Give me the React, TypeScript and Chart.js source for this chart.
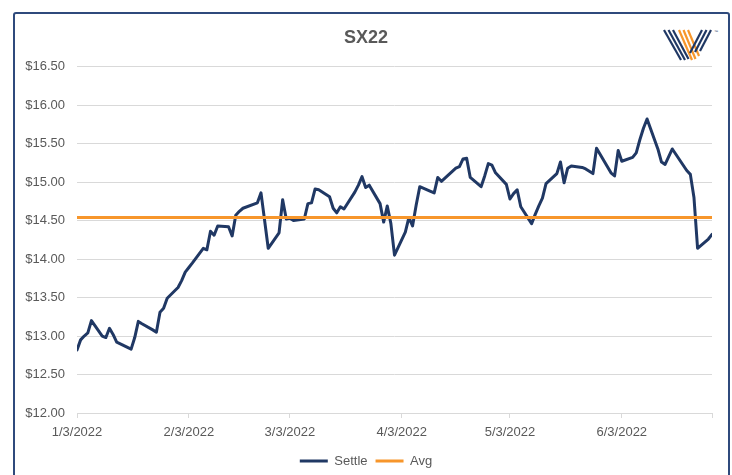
import React, { useEffect, useRef } from 'react';
import { Chart, registerables } from 'chart.js';

Chart.register(...registerables);

const TITLE = 'SX22';
const SERIES_SETTLE = 'Settle';
const SERIES_AVG = 'Avg';

const settleDates = [
  '2022-01-03','2022-01-04','2022-01-05','2022-01-06','2022-01-07','2022-01-10','2022-01-11','2022-01-12','2022-01-13','2022-01-14',
  '2022-01-18','2022-01-19','2022-01-20','2022-01-21','2022-01-24','2022-01-25','2022-01-26','2022-01-27','2022-01-28','2022-01-31',
  '2022-02-01','2022-02-02','2022-02-03','2022-02-04','2022-02-07','2022-02-08','2022-02-09','2022-02-10','2022-02-11','2022-02-14',
  '2022-02-15','2022-02-16','2022-02-17','2022-02-18','2022-02-22','2022-02-23','2022-02-24','2022-02-25','2022-02-28',
  '2022-03-01','2022-03-02','2022-03-03','2022-03-04','2022-03-07','2022-03-08','2022-03-09','2022-03-10','2022-03-11','2022-03-14',
  '2022-03-15','2022-03-16','2022-03-17','2022-03-18','2022-03-21','2022-03-22','2022-03-23','2022-03-24','2022-03-25','2022-03-28',
  '2022-03-29','2022-03-30','2022-03-31',
  '2022-04-01','2022-04-04','2022-04-05','2022-04-06','2022-04-07','2022-04-08','2022-04-11','2022-04-12','2022-04-13','2022-04-14',
  '2022-04-18','2022-04-19','2022-04-20','2022-04-21','2022-04-22','2022-04-25','2022-04-26','2022-04-27','2022-04-28','2022-04-29',
  '2022-05-02','2022-05-03','2022-05-04','2022-05-05','2022-05-06','2022-05-09','2022-05-10','2022-05-11','2022-05-12','2022-05-13',
  '2022-05-16','2022-05-17','2022-05-18','2022-05-19','2022-05-20','2022-05-23','2022-05-24','2022-05-25','2022-05-26','2022-05-27',
  '2022-05-31',
  '2022-06-01','2022-06-02','2022-06-03','2022-06-06','2022-06-07','2022-06-08','2022-06-09','2022-06-10','2022-06-13','2022-06-14',
  '2022-06-15','2022-06-16','2022-06-17','2022-06-21','2022-06-22','2022-06-23','2022-06-24','2022-06-27','2022-06-28',
];

const settleValues = [
  12.82, 12.95, 13.00, 13.04, 13.20, 13.00, 12.98, 13.10, 13.02, 12.92,
  12.83, 12.98, 13.19, 13.16, 13.08, 13.05, 13.31, 13.36, 13.49, 13.63,
  13.72, 13.83, 13.89, 13.95, 14.14, 14.12, 14.36, 14.31, 14.43, 14.42,
  14.30, 14.57, 14.62, 14.66, 14.73, 14.86, 14.50, 14.14, 14.34,
  14.77, 14.52, 14.53, 14.50, 14.52, 14.72, 14.73, 14.91, 14.90, 14.81,
  14.66, 14.60, 14.68, 14.65, 14.87, 14.96, 15.07, 14.93, 14.96, 14.72,
  14.48, 14.69, 14.46,
  14.05, 14.35, 14.54, 14.43, 14.70, 14.94, 14.88, 14.86, 15.06, 15.01,
  15.18, 15.20, 15.30, 15.31, 15.06, 14.94, 15.08, 15.24, 15.22, 15.12,
  14.97, 14.78, 14.85, 14.90, 14.68, 14.46, 14.58, 14.69, 14.79, 14.98,
  15.11, 15.26, 14.99, 15.18, 15.21, 15.19, 15.17, 15.14, 15.11, 15.44,
  15.12,
  15.08, 15.41, 15.27, 15.32, 15.38, 15.55, 15.70, 15.82, 15.43, 15.26,
  15.23, 15.33, 15.43, 15.15, 15.10, 14.80, 14.14, 14.26, 14.32,
];

const AVG_VALUE = 14.54;

const X_START_DATE = '2022-01-03';
const X_END_DATE = '2022-06-28';
const xTickDates = ['2022-01-03', '2022-02-03', '2022-03-03', '2022-04-03', '2022-05-03', '2022-06-03', '2022-06-28'];
const xTickLabels = ['1/3/2022', '2/3/2022', '3/3/2022', '4/3/2022', '5/3/2022', '6/3/2022', ''];

const Y_MIN = 12;
const Y_MAX = 16.5;
const Y_STEP = 0.5;

const FONT = "'Liberation Sans', Arial, Helvetica, sans-serif";
const TEXT_COLOR = '#595959';
const GRID_COLOR = '#D9D9D9';
const NAVY = '#203864';
const ORANGE = '#F7962B';

function dayNum(s: string): number {
  const [y, m, d] = s.split('-').map(Number);
  const [y0, m0, d0] = X_START_DATE.split('-').map(Number);
  return Math.round((Date.UTC(y, m - 1, d) - Date.UTC(y0, m0 - 1, d0)) / 86400000);
}

export default function App() {
  const canvasRef = useRef<HTMLCanvasElement | null>(null);

  useEffect(() => {
    const canvas = canvasRef.current;
    if (!canvas) return;

    const settleData = settleDates.map((d, i) => ({ x: dayNum(d), y: settleValues[i] }));
    const avgData = [
      { x: dayNum(X_START_DATE), y: AVG_VALUE },
      { x: dayNum(X_END_DATE), y: AVG_VALUE },
    ];
    const tickVals = xTickDates.map(dayNum);

    const chart = new Chart(canvas, {
      type: 'line',
      data: {
        datasets: [
          {
            label: SERIES_SETTLE,
            data: settleData,
            borderColor: NAVY,
            backgroundColor: NAVY,
            borderWidth: 3,
            pointRadius: 0,
            pointHoverRadius: 0,
            pointStyle: 'line',
            tension: 0,
            borderJoinStyle: 'round',
            borderCapStyle: 'round',
            order: 1,
          },
          {
            label: SERIES_AVG,
            data: avgData,
            borderColor: ORANGE,
            backgroundColor: ORANGE,
            borderWidth: 3,
            pointRadius: 0,
            pointHoverRadius: 0,
            pointStyle: 'line',
            tension: 0,
            order: 0,
          },
        ],
      },
      options: {
        responsive: false,
        maintainAspectRatio: false,
        animation: false,
        events: [],
        layout: { padding: { left: 20, right: 20, top: 0, bottom: 2.5 } },
        plugins: {
          title: {
            display: true,
            text: TITLE,
            color: TEXT_COLOR,
            font: { family: FONT, size: 18, weight: 'bold' },
            padding: { top: 27, bottom: 18 },
          },
          legend: {
            display: true,
            position: 'bottom',
            labels: {
              color: TEXT_COLOR,
              font: { family: FONT, size: 13 },
              usePointStyle: true,
              pointStyleWidth: 28,
              padding: 8,
              sort: (a: any, b: any) => a.datasetIndex - b.datasetIndex,
            },
          },
          tooltip: { enabled: false },
        },
        scales: {
          x: {
            type: 'linear',
            min: dayNum(X_START_DATE),
            max: dayNum(X_END_DATE),
            afterBuildTicks: (scale: any) => {
              scale.ticks = tickVals.map((v) => ({ value: v }));
            },
            afterFit: (scale: any) => {
              scale.height = 33.5;
            },
            ticks: {
              autoSkip: false,
              maxRotation: 0,
              minRotation: 0,
              padding: 7,
              color: TEXT_COLOR,
              font: { family: FONT, size: 13 },
              callback: (_v: any, i: number) => xTickLabels[i] ?? '',
            },
            grid: {
              display: true,
              drawOnChartArea: false,
              drawTicks: true,
              tickLength: 5,
              color: GRID_COLOR,
              lineWidth: 1,
            },
            border: { display: true, color: GRID_COLOR, width: 1 },
          },
          y: {
            type: 'linear',
            min: Y_MIN,
            max: Y_MAX,
            afterFit: (scale: any) => {
              scale.width = 57;
            },
            ticks: {
              stepSize: Y_STEP,
              padding: 12,
              color: TEXT_COLOR,
              font: { family: FONT, size: 13 },
              callback: (v: any) => '$' + Number(v).toFixed(2),
            },
            grid: {
              color: GRID_COLOR,
              lineWidth: 1,
              drawTicks: false,
            },
            border: { display: false },
          },
        },
      },
    });

    return () => chart.destroy();
  }, []);

  return (
    <div
      style={{
        position: 'absolute',
        left: 0,
        top: 0,
        width: 732,
        height: 475,
        overflow: 'hidden',
        background: '#ffffff',
      }}
    >
      <div
        style={{
          position: 'absolute',
          left: 13,
          top: 12,
          width: 717,
          height: 520,
          border: '2px solid #2F4A7C',
          borderRadius: 3,
          boxSizing: 'border-box',
        }}
      />
      <svg
        width={732}
        height={80}
        style={{ position: 'absolute', left: 0, top: 0, pointerEvents: 'none' }}
      >
        <g stroke={NAVY} strokeWidth={2.2} strokeLinecap="butt">
          <line x1={664} y1={30} x2={681} y2={60} />
          <line x1={668.5} y1={30} x2={685} y2={60} />
          <line x1={673} y1={30} x2={688.5} y2={59} />
        </g>
        <g stroke={ORANGE} strokeWidth={2.2} strokeLinecap="butt">
          <line x1={679} y1={30} x2={692} y2={60} />
          <line x1={683.5} y1={30} x2={695.5} y2={59} />
          <line x1={688} y1={30} x2={699} y2={56} />
        </g>
        <g stroke={NAVY} strokeWidth={2.2} strokeLinecap="butt">
          <line x1={702} y1={30} x2={690} y2={53} />
          <line x1={706.5} y1={30} x2={695} y2={52} />
          <line x1={711} y1={30} x2={700} y2={51} />
        </g>
        <text x={714} y={33} fontSize={4} fill={NAVY} fontFamily={FONT}>™</text>
      </svg>
      <canvas
        ref={canvasRef}
        width={732}
        height={480}
        style={{ position: 'absolute', left: 0, top: 0, display: 'block' }}
      />
    </div>
  );
}
